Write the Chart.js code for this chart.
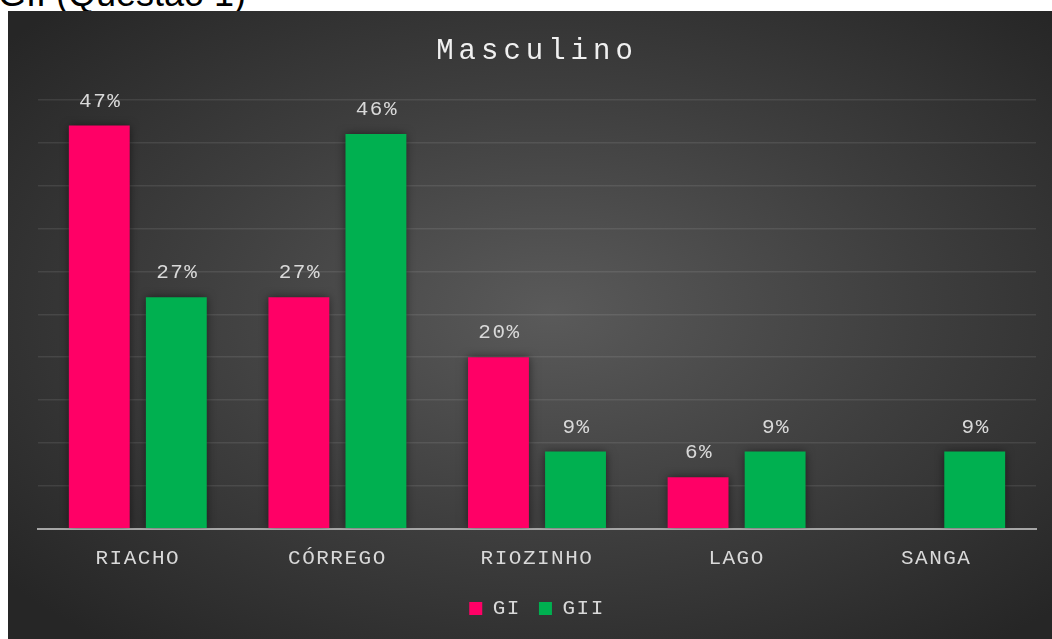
<!DOCTYPE html>
<html><head><meta charset="utf-8">
<script src="https://cdn.jsdelivr.net/npm/chart.js@4"></script>
<style>
html,body{margin:0;padding:0;background:#fff;width:1052px;height:639px;overflow:hidden;}
#head{position:absolute;left:-2px;top:-24px;font:36px/36px 'Liberation Sans',Arial,sans-serif;color:#000;white-space:nowrap;}
#panel{position:absolute;left:8px;top:11px;width:1044px;height:628px;background:radial-gradient(ellipse farthest-corner at 52% 48%, #5a5a5a 0%, #3e3e3e 48%, #262626 92%);}
canvas{display:block}
</style></head><body>
<div id="head">GII (Questão 1)</div>
<div id="panel"><canvas id="c" width="1044" height="628"></canvas></div>
<script>
const categories = ['RIACHO', 'CÓRREGO', 'RIOZINHO', 'LAGO', 'SANGA'];
const seriesNames = ['GI', 'GII'];
const giValues = [47, 27, 20, 6, null];
const giiValues = [27, 46, 9, 9, 9];
const yMin = 0, yMax = 50, yStep = 5;
const chartTitle = 'Masculino';

const FONT = "'Liberation Mono', 'DejaVu Sans Mono', monospace";
const TEXT = '#d9d9d9';

const spacingPlugin = {
  id: 'spacing',
  beforeUpdate(chart) { chart.ctx.letterSpacing = '1.5px'; },
  beforeDraw(chart) {
    chart.ctx.letterSpacing = '1.5px';
    const tb = chart.titleBlock;
    if (tb && !tb._wrapped) {
      const orig = tb.draw.bind(tb);
      tb.draw = function (area) {
        const c = chart.ctx; const prev = c.letterSpacing;
        c.letterSpacing = '5px'; orig(area); c.letterSpacing = prev;
      };
      tb._wrapped = true;
    }
  }
};

const barPlugin = {
  id: 'barDeco',
  beforeDatasetsDraw(chart) {
    const c = chart.ctx; c.save();
    c.shadowColor = 'rgba(0,0,0,0.55)'; c.shadowBlur = 9;
  },
  afterDatasetsDraw(chart) {
    const c = chart.ctx; c.restore();
    c.save();
    c.font = '21px ' + FONT; c.fillStyle = TEXT;
    c.textAlign = 'center'; c.textBaseline = 'alphabetic';
    c.letterSpacing = '1.5px';
    chart.data.datasets.forEach((ds, i) => {
      const meta = chart.getDatasetMeta(i);
      meta.data.forEach((bar, j) => {
        const v = ds.data[j];
        if (v === null || v === undefined) return;
        c.fillText(v + '%', bar.x + 1, bar.y - 19);
      });
    });
    c.restore();
  }
};

new Chart(document.getElementById('c'), {
  type: 'bar',
  data: {
    labels: categories,
    datasets: [
      { label: seriesNames[0], data: giValues, backgroundColor: '#ff0066', borderWidth: 0 },
      { label: seriesNames[1], data: giiValues, backgroundColor: '#00b050', borderWidth: 0 }
    ]
  },
  options: {
    responsive: false,
    devicePixelRatio: 1,
    animation: false,
    datasets: { bar: { categoryPercentage: 0.772, barPercentage: 0.79 } },
    layout: { padding: { left: 30, right: 16, top: 0, bottom: 10 } },
    plugins: {
      title: {
        display: true, text: chartTitle, color: '#f0f0f0',
        font: { family: FONT, size: 29, weight: 'normal' },
        padding: { top: 23, bottom: 31 }
      },
      legend: {
        display: true, position: 'bottom',
        labels: { color: TEXT, font: { family: FONT, size: 21 }, boxWidth: 13, boxHeight: 13, padding: 18 }
      },
      tooltip: { enabled: false }
    },
    scales: {
      x: {
        grid: { display: false },
        border: { display: true, color: '#a6a6a6', width: 2 },
        ticks: { color: TEXT, font: { family: FONT, size: 21 }, padding: 9, maxRotation: 0 }
      },
      y: {
        min: yMin, max: yMax,
        ticks: { display: false, stepSize: yStep },
        grid: { color: 'rgba(255,255,255,0.09)', lineWidth: 1.5, drawTicks: false },
        border: { display: false },
        afterFit(scale) { scale.width = 0; }
      }
    }
  },
  plugins: [spacingPlugin, barPlugin]
});
</script>
</body></html>
